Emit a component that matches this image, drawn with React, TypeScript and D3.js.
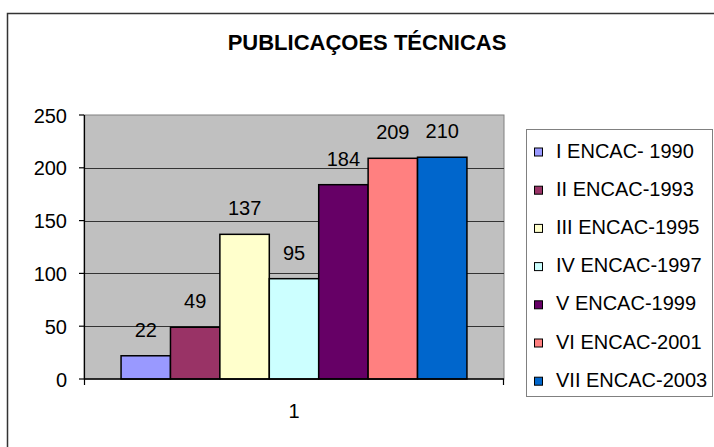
import React from "react";
import * as d3 from "d3";

const categories = ["1"];
const seriesNames = [
  "I ENCAC- 1990",
  "II ENCAC-1993",
  "III ENCAC-1995",
  "IV ENCAC-1997",
  "V ENCAC-1999",
  "VI ENCAC-2001",
  "VII ENCAC-2003",
];
const seriesValues = [22, 49, 137, 95, 184, 209, 210];
const seriesColors = ["#9999FF", "#993366", "#FFFFCC", "#CCFFFF", "#660066", "#FF8080", "#0066CC"];
const yTicks = [0, 50, 100, 150, 200, 250];
const title = "PUBLICAÇOES TÉCNICAS";

const W = 714;
const H = 447;
const plot = { left: 84, right: 504, top: 115, bottom: 379 };
const font = "'Liberation Sans', Arial, sans-serif";

export default function App() {
  const x0 = d3.scaleBand<string>().domain(categories).range([plot.left, plot.right]).padding(0);
  const x1 = d3
    .scaleBand<string>()
    .domain(seriesNames)
    .range([0, x0.bandwidth()])
    .paddingInner(0)
    .paddingOuter(0.75);
  const y = d3.scaleLinear().domain([0, 250]).range([plot.bottom, plot.top]);

  const legend = { x: 526, y: 129, w: 186, h: 267, rowStart: 152, rowStep: 38.2 };

  return (
    <svg
      width={W}
      height={H}
      style={{ position: "absolute", left: 0, top: 0, background: "#fff" }}
      fontFamily={font}
    >
      <rect x={0} y={0} width={W} height={H} fill="#fff" />
      {/* outer frame */}
      <rect x={7.5} y={13.5} width={W + 20} height={H + 20} fill="none" stroke="#333" strokeWidth={1.5} />
      {/* title */}
      <text x={367} y={50} textAnchor="middle" fontSize={22} fontWeight="bold" fill="#000">
        {title}
      </text>
      {/* plot area */}
      <rect
        x={plot.left}
        y={plot.top}
        width={plot.right - plot.left}
        height={plot.bottom - plot.top}
        fill="#C0C0C0"
        stroke="#808080"
        strokeWidth={1}
      />
      {/* gridlines */}
      {yTicks
        .filter((t) => t > 0 && t < 250)
        .map((t) => (
          <line
            key={"g" + t}
            x1={plot.left}
            x2={plot.right}
            y1={Math.round(y(t)) + 0.5}
            y2={Math.round(y(t)) + 0.5}
            stroke="#333"
            strokeWidth={1}
          />
        ))}
      {/* bars */}
      {categories.map((c) =>
        seriesNames.map((s, i) => {
          const bx = (x0(c) as number) + (x1(s) as number);
          const by = y(seriesValues[i]);
          return (
            <g key={c + s}>
              <rect
                x={bx}
                y={by}
                width={x1.bandwidth()}
                height={y(0) - by}
                fill={seriesColors[i]}
                stroke="#000"
                strokeWidth={1.5}
              />
              <text
                x={bx + x1.bandwidth() / 2}
                y={by - 19}
                textAnchor="middle"
                fontSize={20}
                fill="#000"
              >
                {seriesValues[i]}
              </text>
            </g>
          );
        })
      )}
      {/* y axis */}
      <line x1={plot.left + 0.5} x2={plot.left + 0.5} y1={plot.top} y2={plot.bottom + 6} stroke="#000" strokeWidth={1.2} />
      {yTicks.map((t) => (
        <g key={"t" + t}>
          <line x1={plot.left - 5} x2={plot.left} y1={y(t)} y2={y(t)} stroke="#000" strokeWidth={1.2} />
          <text x={67} y={y(t) + 7.5} textAnchor="end" fontSize={20} fill="#000">
            {t}
          </text>
        </g>
      ))}
      {/* x axis */}
      <line x1={plot.left} x2={plot.right} y1={plot.bottom} y2={plot.bottom} stroke="#000" strokeWidth={1.5} />
      <line x1={plot.right - 0.5} x2={plot.right - 0.5} y1={plot.bottom} y2={plot.bottom + 6} stroke="#000" strokeWidth={1.2} />
      {categories.map((c) => (
        <text
          key={"c" + c}
          x={(x0(c) as number) + x0.bandwidth() / 2}
          y={418}
          textAnchor="middle"
          fontSize={20}
          fill="#000"
        >
          {c}
        </text>
      ))}
      {/* legend */}
      <rect x={legend.x + 0.5} y={legend.y + 0.5} width={legend.w} height={legend.h} fill="#fff" stroke="#808080" strokeWidth={1} />
      {seriesNames.map((s, i) => {
        const cy = legend.rowStart + i * legend.rowStep;
        return (
          <g key={"l" + s}>
            <rect x={534.5} y={cy - 4} width={8} height={8} fill={seriesColors[i]} stroke="#000" strokeWidth={1} />
            <text x={556} y={cy + 5.5} fontSize={20} fill="#000">
              {s}
            </text>
          </g>
        );
      })}
    </svg>
  );
}
